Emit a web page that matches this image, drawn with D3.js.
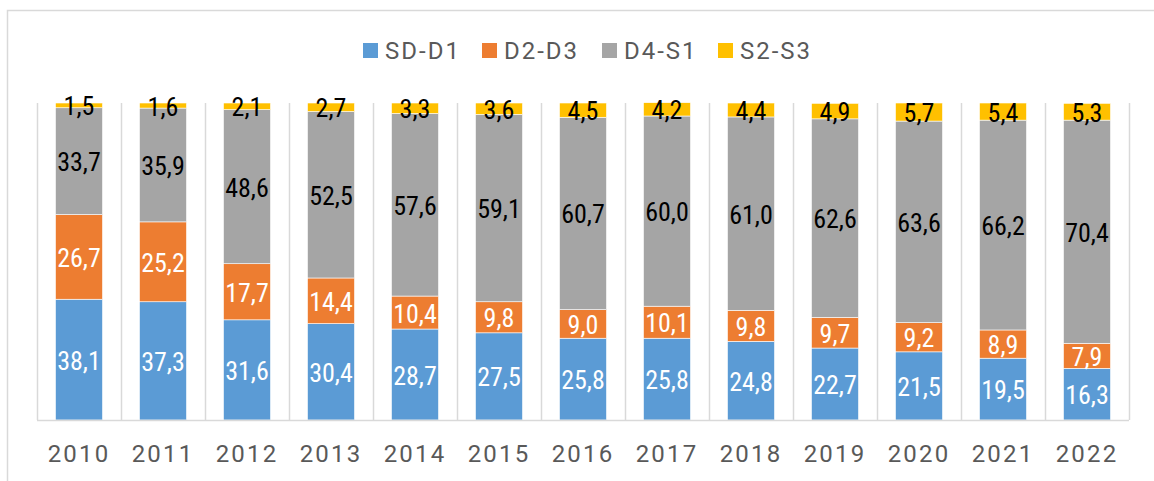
<!DOCTYPE html>
<html>
<head>
<meta charset="utf-8">
<script src="https://cdn.jsdelivr.net/npm/d3@7"></script>
<style>
  body { margin: 0; background: #fff; }
  text { font-family: Roboto, "DejaVu Sans", sans-serif; }
</style>
</head>
<body>
<svg id="chart" width="1154" height="481"></svg>
<script>
let years = ["2010", "2011", "2012", "2013", "2014", "2015", "2016", "2017", "2018", "2019", "2020", "2021", "2022"]
let series_names = ["SD-D1", "D2-D3", "D4-S1", "S2-S3"]
let sd_d1 = [38.1, 37.3, 31.6, 30.4, 28.7, 27.5, 25.8, 25.8, 24.8, 22.7, 21.5, 19.5, 16.3]
let d2_d3 = [26.7, 25.2, 17.7, 14.4, 10.4, 9.8, 9.0, 10.1, 9.8, 9.7, 9.2, 8.9, 7.9]
let d4_s1 = [33.7, 35.9, 48.6, 52.5, 57.6, 59.1, 60.7, 60.0, 61.0, 62.6, 63.6, 66.2, 70.4]
let s2_s3 = [1.5, 1.6, 2.1, 2.7, 3.3, 3.6, 4.5, 4.2, 4.4, 4.9, 5.7, 5.4, 5.3]

let colors = ["#5b9bd5", "#ed7d31", "#a5a5a5", "#ffc000"]
let label_colors = ["#ffffff", "#ffffff", "#000000", "#000000"]

let margins = {left: 37, right: 25, top: 103, bottom: 61}
let width = 1154, height = 481

function visualize() {
  let rows = years.map((y, i) => ({
    year: y,
    "SD-D1": sd_d1[i], "D2-D3": d2_d3[i], "D4-S1": d4_s1[i], "S2-S3": s2_s3[i]
  }))
  let stacked = d3.stack().keys(series_names)(rows)
  let scales = make_scales()
  let svg = d3.select("#chart")

  // outer chart border (runs off the right and bottom edges)
  svg.append("rect")
    .attrs({x: 7.5, y: 10.5, width: 1160, height: 500, fill: "none", stroke: "#d9d9d9", "stroke-width": 1.5})

  draw_grid(svg, scales)
  draw_bars(svg, stacked, scales)
  draw_axis(svg, scales)
  draw_legend(svg)
}

function make_scales() {
  return {
    x: d3.scaleBand()
      .domain(years)
      .range([margins.left, width - margins.right])
      .paddingInner(0.44)
      .paddingOuter(0.22),
    y: d3.scaleLinear()
      .domain([0, 100])
      .range([height - margins.bottom, margins.top])
  }
}

function draw_grid(svg, scales) {
  let step = scales.x.step()
  let x0 = scales.x.range()[0]
  let bounds = d3.range(years.length + 1).map(i => x0 + i * step)
  svg.append("g")
    .selectAll("line")
    .data(bounds).enter()
    .append("line")
    .attrs({
      x1: d => Math.round(d) + 0.5, x2: d => Math.round(d) + 0.5,
      y1: scales.y(100), y2: scales.y(0),
      stroke: "#d9d9d9", "stroke-width": 1.5
    })
}

function draw_bars(svg, stacked, scales) {
  let groups = svg.append("g")
    .selectAll("g")
    .data(stacked).enter()
    .append("g")
    .attr("fill", (d, i) => colors[i])

  groups.selectAll("rect")
    .data(d => d).enter()
    .append("rect")
    .attrs({
      x: d => scales.x(d.data.year),
      y: d => scales.y(d[1]),
      width: scales.x.bandwidth(),
      height: d => scales.y(d[0]) - scales.y(d[1]),
      stroke: "#ffffff",
      "stroke-width": 0.6
    })

  let labels = svg.append("g")
    .selectAll("g")
    .data(stacked).enter()
    .append("g")
    .attr("fill", (d, i) => label_colors[i])

  labels.selectAll("text")
    .data(d => d.map(p => ({p: p, key: d.key}))).enter()
    .append("text")
    .attrs({
      x: d => scales.x(d.p.data.year) + scales.x.bandwidth() / 2,
      y: d => (scales.y(d.p[0]) + scales.y(d.p[1])) / 2 + 1,
      "text-anchor": "middle",
      "dominant-baseline": "central",
      "font-size": 26
    })
    .style("font-stretch", "condensed")
    .text(d => d3.format(".1f")(d.p.data[d.key]).replace(".", ","))
}

function draw_axis(svg, scales) {
  let axis = svg.append("g")
    .attr("transform", `translate(0, ${scales.y(0)})`)
    .call(d3.axisBottom(scales.x).tickSize(0).tickPadding(25))
  axis.select(".domain")
    .attrs({stroke: "#d9d9d9", "stroke-width": 1.5, d: `M${margins.left},0.5H${width - margins.right}`})
  axis.selectAll("text")
    .attrs({"font-size": 24, fill: "#595959", "letter-spacing": 2.2})
    .style("font-family", "Roboto, sans-serif")
}

function draw_legend(svg) {
  let xs = [363, 482, 602, 718]
  let g = svg.append("g")
  g.selectAll("rect")
    .data(series_names).enter()
    .append("rect")
    .attrs({x: (d, i) => xs[i], y: 43, width: 15, height: 15, fill: (d, i) => colors[i]})
  g.selectAll("text")
    .data(series_names).enter()
    .append("text")
    .attrs({
      x: (d, i) => xs[i] + 22, y: 51,
      "dominant-baseline": "central",
      "font-size": 24, fill: "#595959", "letter-spacing": 2
    })
    .text(d => d)
}

// d3.attrs helper (d3-selection-multi is not loaded)
d3.selection.prototype.attrs = function(obj) {
  for (let k in obj) this.attr(k, obj[k])
  return this
}

visualize()
</script>
</body>
</html>
